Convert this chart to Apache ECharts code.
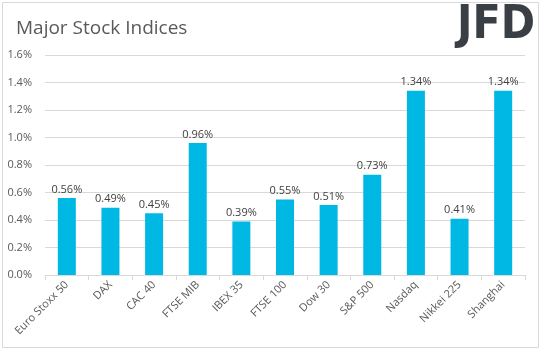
<!DOCTYPE html>
<html>
<head>
<meta charset="utf-8">
<script src="https://cdn.jsdelivr.net/npm/echarts@6/dist/echarts.min.js"></script>
<style>
  html, body { margin: 0; padding: 0; background: #fff; }
  #chart { width: 543px; height: 351px; }
</style>
</head>
<body>
<div id="chart"></div>
<script>
var indices = ['Euro Stoxx 50', 'DAX', 'CAC 40', 'FTSE MIB', 'IBEX 35', 'FTSE 100',
               'Dow 30', 'S&P 500', 'Nasdaq', 'Nikkei 225', 'Shanghai'];
var changes = [0.56, 0.49, 0.45, 0.96, 0.39, 0.55, 0.51, 0.73, 1.34, 0.41, 1.34];

var chart = echarts.init(document.getElementById('chart'));

var option = {
  animation: false,
  textStyle: { fontFamily: 'Open Sans, Lato, sans-serif' },
  graphic: [
    // outer border
    { type: 'rect', shape: { x: 2.5, y: 2.5, width: 536, height: 345 },
      style: { fill: 'none', stroke: '#d9d9d9', lineWidth: 1 } },
    { type: 'text', left: 16, top: 19,
      style: { text: 'Major Stock Indices', fontSize: 19, fill: '#595959',
               fontFamily: 'Open Sans, sans-serif' } },
    // logo
    { type: 'text', left: 457, top: 3,
      style: { text: 'JFD', fontSize: 46, fontWeight: 'bold', fill: '#3a3f46',
               fontFamily: 'Liberation Sans Narrow, DejaVu Sans Condensed, sans-serif' } }
  ],
  grid: { left: 45, right: 18, top: 55, bottom: 76 },
  xAxis: {
    type: 'category',
    data: indices,
    axisLine: { lineStyle: { color: '#d9d9d9' } },
    axisTick: { show: true, length: 5, lineStyle: { color: '#d9d9d9' } },
    axisLabel: { rotate: 45, color: '#595959', fontSize: 11, margin: 8, interval: 0 }
  },
  yAxis: {
    type: 'value',
    min: 0,
    max: 1.6,
    interval: 0.2,
    axisLine: { show: false },
    axisTick: { show: false },
    splitLine: { lineStyle: { color: '#d9d9d9' } },
    axisLabel: {
      color: '#595959', fontSize: 11, margin: 13,
      formatter: function (v) { return v.toFixed(1) + '%'; }
    }
  },
  series: [{
    type: 'bar',
    data: changes,
    barWidth: 18,
    itemStyle: { color: '#00b8e4' },
    label: {
      show: true, position: 'top', distance: 3, color: '#404040', fontSize: 11,
      formatter: function (p) { return p.value.toFixed(2) + '%'; }
    }
  }]
};

chart.setOption(option);
</script>
</body>
</html>
